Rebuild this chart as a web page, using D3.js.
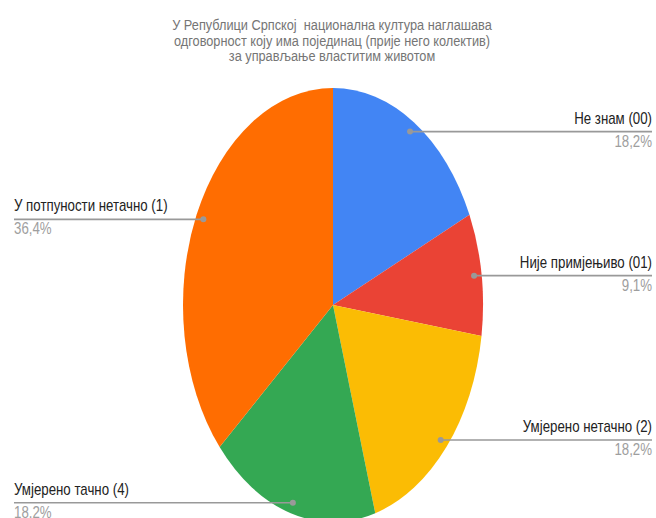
<!DOCTYPE html>
<html><head><meta charset="utf-8">
<script src="https://cdn.jsdelivr.net/npm/d3@7"></script>
<style>html,body{margin:0;padding:0;background:#fff;overflow:hidden}</style>
</head><body>
<svg id="chart" width="656" height="518"></svg>
<script>
const titleLines = ["У Републици Српској  национална култура наглашава", "одговорност коју има појединац (прије него колектив)", "за управљање властитим животом"];
const categories = ["Не знам (00)", "Није примјењиво (01)", "Умјерено нетачно (2)", "Умјерено тачно (4)", "У потпуности нетачно (1)"];
const values = [2, 1, 2, 2, 4];
const percentLabels = ["18,2%", "9,1%", "18,2%", "18.2%", "36,4%"];
const colors = ["#4285f4", "#ea4335", "#fbbc04", "#34a853", "#ff6d01"];

const W = 656, H = 518;
const cx = 333, cy = 305, rx = 150, ry = 217;
const fontFam = "'Liberation Sans', Arial, sans-serif";
const svg = d3.select("#chart");

// title
svg.append("g").selectAll("g").data(titleLines).join("g")
  .attr("transform", (d, i) => `translate(332,${30 + i * 15.5}) scale(0.85,1)`)
  .append("text")
  .attr("text-anchor", "middle")
  .style("white-space", "pre")
  .attr("font-family", fontFam)
  .attr("font-size", 15).attr("fill", "#757575")
  .text(d => d);

const pie = d3.pie().sort(null).value(d => d);
const arcs = pie(values);
const arc = d3.arc().innerRadius(0).outerRadius(rx);

const g = svg.append("g").attr("transform", `translate(${cx},${cy}) scale(1,${ry / rx})`);
g.selectAll("path").data(arcs).join("path")
  .attr("d", arc).attr("fill", (d, i) => colors[i]);

// labels
const labelG = svg.append("g");
arcs.forEach((a, i) => {
  const mid = (a.startAngle + a.endAngle) / 2;
  const px = cx + Math.sin(mid) * rx * 0.95;
  const py = cy - Math.cos(mid) * ry * 0.95;
  const right = mid < Math.PI;
  const x2 = right ? W - 4 : 14;
  labelG.append("line").attr("x1", px).attr("y1", py).attr("x2", x2).attr("y2", py)
    .attr("stroke", "#999").attr("stroke-width", 1.6);
  labelG.append("circle").attr("cx", px).attr("cy", py).attr("r", 3).attr("fill", "#999");
  labelG.append("g").attr("transform", `translate(${x2},${py - 8}) scale(0.83,1)`)
    .append("text")
    .attr("text-anchor", right ? "end" : "start")
    .attr("font-family", fontFam)
    .attr("font-size", 16).attr("fill", "#222").text(categories[i]);
  labelG.append("g").attr("transform", `translate(${x2},${py + 15}) scale(0.83,1)`)
    .append("text")
    .attr("text-anchor", right ? "end" : "start")
    .attr("font-family", fontFam)
    .attr("font-size", 16).attr("fill", "#9e9e9e").text(percentLabels[i]);
});
</script>
</body></html>
